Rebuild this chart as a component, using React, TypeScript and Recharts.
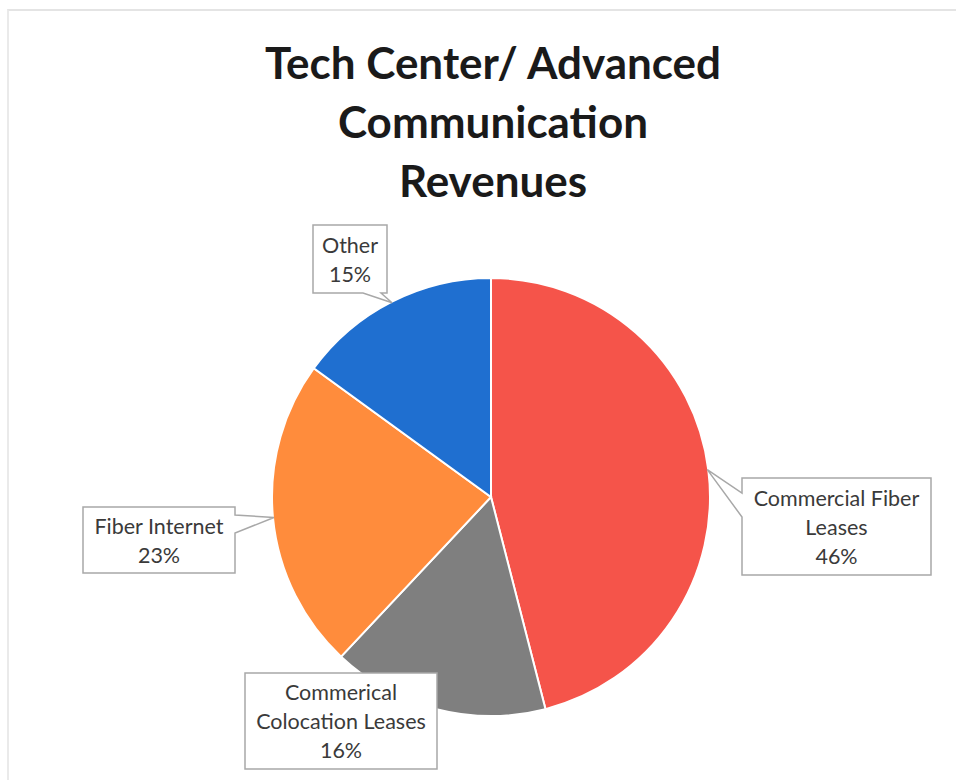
import { PieChart, Pie, Cell } from 'recharts';

const sliceNames = ['Commercial Fiber Leases', 'Commerical Colocation Leases', 'Fiber Internet', 'Other'];
const sliceValues = [46, 16, 23, 15];
const sliceColors = ['#F5544A', '#7F7F7F', '#FF8C3C', '#1F6FD0'];
const labelLines = [['Commercial Fiber', 'Leases'], ['Commerical', 'Colocation Leases'], ['Fiber Internet'], ['Other']];
const titleLines = ['Tech Center/ Advanced', 'Communication', 'Revenues'];

const data = sliceNames.map((name, i) => ({ name, value: sliceValues[i] }));

// callout box placement; a/b are the wedge base offsets along the chosen side
const boxes = [
  { x: 742, y: 478, w: 189, h: 97, side: 'left', a: 15, b: 39 },
  { x: 245, y: 673, w: 192, h: 96, side: 'none', a: 0, b: 0 },
  { x: 83, y: 507, w: 152, h: 66, side: 'right', a: 8, b: 26 },
  { x: 313, y: 225, w: 74, h: 68, side: 'bottom', a: 50, b: 68 },
];

const RAD = Math.PI / 180;

const calloutPath = (bx: any, tx: number, ty: number) => {
  const { x, y, w, h, side, a, b } = bx;
  const r = x + w;
  const btm = y + h;
  if (side === 'left')
    return `M${x},${y} H${r} V${btm} H${x} V${y + b} L${tx},${ty} L${x},${y + a} Z`;
  if (side === 'right')
    return `M${x},${y} H${r} V${y + a} L${tx},${ty} L${r},${y + b} V${btm} H${x} Z`;
  if (side === 'bottom')
    return `M${x},${y} H${r} V${btm} H${x + b} L${tx},${ty} L${x + a},${btm} H${x} Z`;
  return `M${x},${y} H${r} V${btm} H${x} Z`;
};

const renderLabel = (props: any) => {
  const { cx, cy, midAngle, outerRadius, percent, index } = props;
  const bx = boxes[index];
  const tx = cx + Math.cos(-midAngle * RAD) * (outerRadius - 1);
  const ty = cy + Math.sin(-midAngle * RAD) * (outerRadius - 1);
  const lines = [...labelLines[index], `${Math.round(percent * 100)}%`];
  const lh = 29;
  const midY = bx.y + bx.h / 2;
  const first = midY - ((lines.length - 1) * lh) / 2;
  return (
    <g key={`lbl-${index}`}>
      <path d={calloutPath(bx, tx, ty)} fill="#fff" stroke="#A8A8A8" strokeWidth={1.5} />
      {lines.map((t, i) => (
        <text
          key={i}
          x={bx.x + bx.w / 2}
          y={first + i * lh}
          textAnchor="middle"
          dominantBaseline="central"
          fontFamily="Lato, 'Open Sans', sans-serif"
          fontSize={21.5}
          fill="#3A3A3A"
        >
          {t}
        </text>
      ))}
    </g>
  );
};

export default function App() {
  return (
    <div style={{ position: 'absolute', left: 0, top: 0, width: 956, height: 780, background: '#fff', overflow: 'hidden' }}>
      <div style={{ position: 'absolute', left: 7, top: 9, right: 0, bottom: 0, borderTop: '2px solid #E4E4E4', borderLeft: '2px solid #EAEAEA' }} />
      <div
        style={{
          position: 'absolute',
          left: 0,
          top: 33,
          width: 986,
          textAlign: 'center',
          fontFamily: "Lato, 'Open Sans', sans-serif",
          fontWeight: 700,
          fontSize: 44,
          lineHeight: '59px',
          color: '#1A1A1A',
        }}
      >
        {titleLines.map((t) => (
          <div key={t}>{t}</div>
        ))}
      </div>
      <div style={{ position: 'absolute', left: 0, top: 0 }}>
        <PieChart width={956} height={780} margin={{ top: 0, right: 0, bottom: 0, left: 0 }}>
          <Pie
            data={data}
            dataKey="value"
            nameKey="name"
            cx={491}
            cy={497}
            outerRadius={219}
            startAngle={90}
            endAngle={-270}
            stroke="#fff"
            strokeWidth={2}
            label={renderLabel}
            labelLine={false}
            isAnimationActive={false}
          >
            {data.map((d, i) => (
              <Cell key={d.name} fill={sliceColors[i]} />
            ))}
          </Pie>
        </PieChart>
      </div>
    </div>
  );
}
